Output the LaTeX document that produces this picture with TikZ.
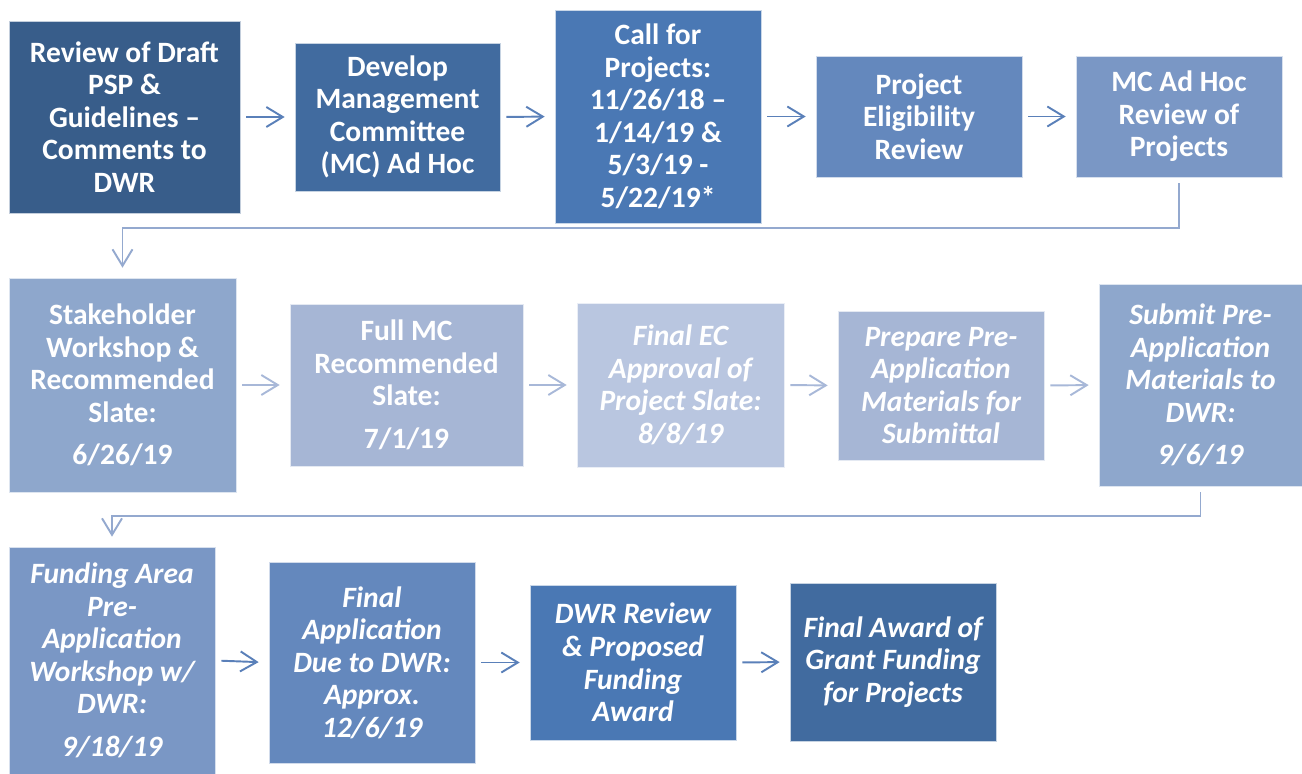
\documentclass[tikz,border=0pt]{standalone}
\usepackage{fontspec}
\setmainfont{Carlito}
\usetikzlibrary{arrows.meta}

\definecolor{shA}{HTML}{385D8A}
\definecolor{shB}{HTML}{416B9F}
\definecolor{shC}{HTML}{4A78B4}
\definecolor{shD}{HTML}{6488BD}
\definecolor{shE}{HTML}{7A97C5}
\definecolor{shF}{HTML}{8EA7CC}
\definecolor{shG}{HTML}{A6B6D5}
\definecolor{shH}{HTML}{B9C6E0}
\definecolor{arrDark}{HTML}{5A80B9}
\definecolor{arrLight}{HTML}{A8B8D8}
\definecolor{connCol}{HTML}{94A9CF}

\begin{document}
\begin{tikzpicture}[
  x=0.02cm,y=-0.02cm,
  >={Straight Barb[length=3.3mm,width=4mm]},
  stepbox/.style={rectangle,fill=#1,draw=white!70!#1,line width=0.4pt,text=white,
    align=center,inner sep=0pt,font=\fontsize{16.8}{18.5}\selectfont\bfseries},
  stepit/.style={stepbox=#1,font=\fontsize{16.8}{18.5}\selectfont\bfseries\itshape},
  arr/.style={->,line width=1.1pt,shorten <=0.12cm,shorten >=0.2cm},
  conn/.style={->,line width=1.1pt,color=connCol,shorten <=0.12cm,shorten >=0.2cm}
]
\useasboundingbox (0,0) rectangle (1302,774);

% first row
\node[stepbox=shA,minimum width=4.62cm,minimum height=3.84cm] (rev) at (124.5,117)
  {Review of Draft\\PSP \&\\Guidelines --\\Comments to\\DWR};
\node[stepbox=shB,minimum width=4.10cm,minimum height=2.96cm] (dev) at (397.5,117)
  {Develop\\Management\\Committee\\(MC) Ad Hoc};
\node[stepbox=shC,minimum width=4.12cm,minimum height=4.26cm] (call) at (658,116.5)
  {Call for\\Projects:\\11/26/18 --\\1/14/19 \&\\5/3/19 -\\5/22/19*};
\node[stepbox=shD,minimum width=4.12cm,minimum height=2.42cm] (elig) at (919,116.5)
  {Project\\Eligibility\\Review};
\node[stepbox=shE,minimum width=4.12cm,minimum height=2.42cm] (adhoc) at (1179,116.5)
  {MC Ad Hoc\\Review of\\Projects};

% second row
\node[stepbox=shF,minimum width=4.54cm,minimum height=4.28cm] (stake) at (122.5,385)
  {Stakeholder\\Workshop \&\\Recommended\\Slate:\\[0.2cm]6/26/19};
\node[stepbox=shG,minimum width=4.66cm,minimum height=3.24cm] (full) at (406.5,385)
  {Full MC\\Recommended\\Slate:\\[0.2cm]7/1/19};
\node[stepit=shH,minimum width=4.14cm,minimum height=3.28cm] (ec) at (680.5,385)
  {Final EC\\Approval of\\Project Slate:\\8/8/19};
\node[stepit=shG,minimum width=4.12cm,minimum height=2.98cm] (prep) at (941,385.5)
  {Prepare Pre-\\Application\\Materials for\\Submittal};
\node[stepit=shF,minimum width=4.06cm,minimum height=4.04cm] (subm) at (1200.5,385)
  {Submit Pre-\\Application\\Materials to\\DWR:\\[0.2cm]9/6/19};

% third row
\node[stepit=shE,minimum width=4.12cm,minimum height=4.54cm] (fund) at (112,660.5)
  {Funding Area\\Pre-\\Application\\Workshop w/\\DWR:\\[0.2cm]9/18/19};
\node[stepit=shD,minimum width=4.12cm,minimum height=4.02cm] (appl) at (372,662.5)
  {Final\\Application\\Due to DWR:\\Approx.\\12/6/19};
\node[stepit=shC,minimum width=4.12cm,minimum height=3.10cm] (dwr) at (633,662.5)
  {DWR Review\\\& Proposed\\Funding\\Award};
\node[stepit=shB,minimum width=4.12cm,minimum height=3.16cm] (award) at (893,662)
  {Final Award of\\Grant Funding\\for Projects};

\coordinate (k1) at (650,228);
\coordinate (k2) at (650,516);

\draw[arr,arrDark] (rev.east) -- (dev.west);
\draw[arr,arrDark] (dev.east) -- (call.west);
\draw[arr,arrDark] (call.east) -- (elig.west);
\draw[arr,arrDark] (elig.east) -- (adhoc.west);

\draw[conn] (adhoc.south) |- (k1) -| (stake.north);

\draw[arr,arrLight] (stake.east) -- (full.west);
\draw[arr,arrLight] (full.east) -- (ec.west);
\draw[arr,arrLight] (ec.east) -- (prep.west);
\draw[arr,arrLight] (prep.east) -- (subm.west);

\draw[conn] (subm.south) |- (k2) -| (fund.north);

\draw[arr,arrDark] (fund.east) -- (appl.west);
\draw[arr,arrDark] (appl.east) -- (dwr.west);
\draw[arr,arrDark] (dwr.east) -- (award.west);
\end{tikzpicture}
\end{document}
